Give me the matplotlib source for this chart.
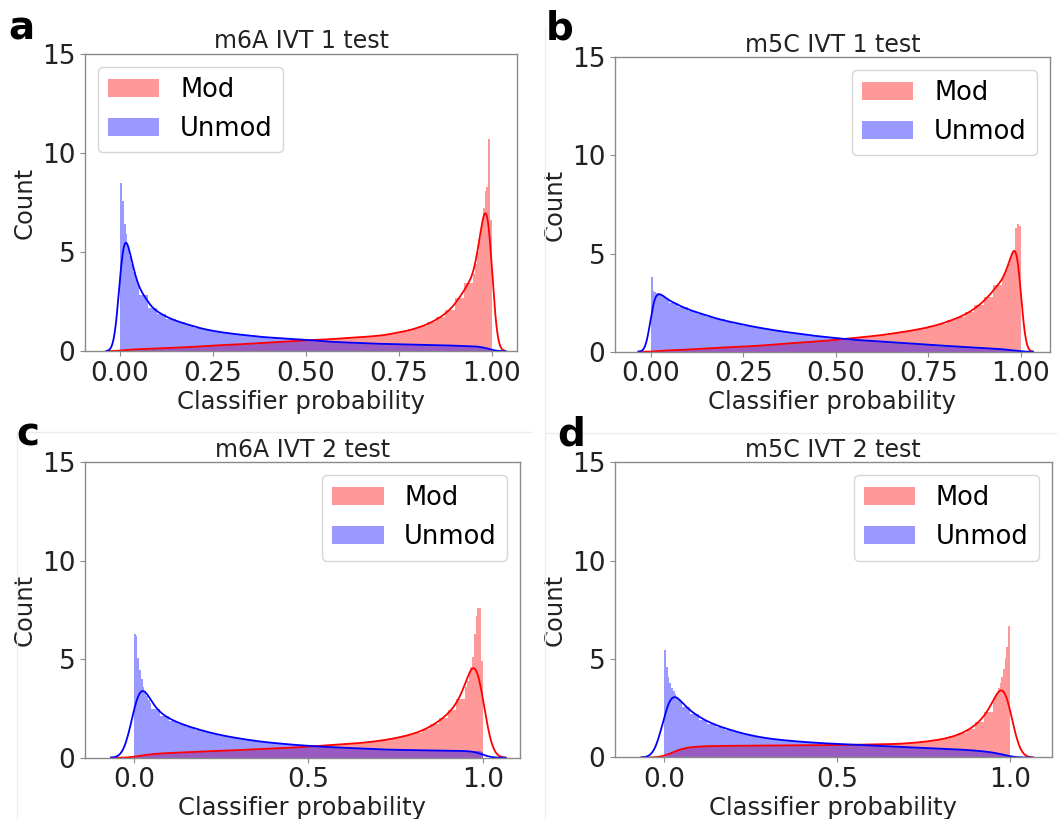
import math
import numpy as np
import matplotlib
matplotlib.use("Agg")
import matplotlib.pyplot as plt
from matplotlib.patches import Patch
from matplotlib.ticker import FormatStrFormatter

# shared bin edges: 0.005 wide near 0 and 1, 0.025 wide in the middle
edges = np.concatenate([np.linspace(0, 0.05, 11)[:-1],
                        np.linspace(0.05, 0.95, 37)[:-1],
                        np.linspace(0.95, 1.0, 11)])

# density per bin (10 fine + 36 mid + 10 fine)
a_mod = [0.04, 0.05, 0.05, 0.06, 0.06, 0.07, 0.07, 0.08, 0.08, 0.09,
         0.10, 0.12, 0.14, 0.16, 0.18, 0.20, 0.23, 0.26, 0.29, 0.31,
         0.33, 0.36, 0.38, 0.41, 0.44, 0.47, 0.50, 0.53, 0.55, 0.57,
         0.59, 0.63, 0.66, 0.69, 0.72, 0.76, 0.81, 0.90, 0.98, 1.10,
         1.25, 1.45, 1.72, 2.08, 2.68, 3.45,
         3.9, 4.4, 5.0, 5.7, 6.4, 7.2, 8.1, 8.3, 10.7, 6.6]
a_unmod = [8.5, 7.6, 6.4, 5.9, 5.3, 4.8, 4.4, 4.0, 3.7, 3.4,
           2.85, 2.15, 1.85, 1.62, 1.45, 1.31, 1.17, 1.06, 0.98, 0.91,
           0.85, 0.80, 0.75, 0.70, 0.67, 0.64, 0.61, 0.58, 0.55, 0.51,
           0.47, 0.45, 0.43, 0.41, 0.39, 0.37, 0.36, 0.35, 0.34, 0.33,
           0.31, 0.30, 0.29, 0.28, 0.26, 0.25,
           0.24, 0.23, 0.22, 0.21, 0.20, 0.18, 0.16, 0.14, 0.12, 0.10]

b_mod = [0.0, 0.01, 0.02, 0.03, 0.04, 0.04, 0.05, 0.06, 0.06, 0.07,
         0.07, 0.09, 0.12, 0.15, 0.18, 0.20, 0.23, 0.25, 0.27, 0.30,
         0.33, 0.37, 0.41, 0.44, 0.47, 0.50, 0.54, 0.58, 0.63, 0.68,
         0.72, 0.77, 0.82, 0.88, 0.95, 1.02, 1.10, 1.19, 1.30, 1.43,
         1.60, 1.78, 2.03, 2.36, 2.80, 3.40,
         3.75, 3.95, 4.2, 4.45, 4.75, 5.05, 5.2, 6.3, 6.5, 6.4]
b_unmod = [3.8, 3.1, 3.05, 3.0, 3.0, 2.95, 2.88, 2.8, 2.73, 2.67,
           2.5, 2.26, 2.08, 1.93, 1.78, 1.64, 1.53, 1.43, 1.33, 1.24,
           1.16, 1.08, 1.01, 0.95, 0.88, 0.82, 0.77, 0.72, 0.67, 0.63,
           0.59, 0.56, 0.53, 0.50, 0.46, 0.43, 0.40, 0.37, 0.34, 0.31,
           0.28, 0.26, 0.23, 0.20, 0.17, 0.14,
           0.12, 0.11, 0.10, 0.09, 0.08, 0.07, 0.06, 0.05, 0.04, 0.03]

c_mod = [0.05, 0.07, 0.09, 0.11, 0.12, 0.14, 0.15, 0.16, 0.17, 0.18,
         0.20, 0.23, 0.25, 0.27, 0.29, 0.31, 0.33, 0.34, 0.36, 0.38,
         0.40, 0.42, 0.44, 0.46, 0.48, 0.50, 0.52, 0.55, 0.58, 0.61,
         0.64, 0.67, 0.70, 0.73, 0.77, 0.82, 0.88, 0.95, 1.04, 1.14,
         1.27, 1.45, 1.70, 2.00, 2.40, 3.00,
         3.6, 3.9, 4.3, 4.6, 5.1, 6.3, 7.2, 7.6, 7.6, 4.9]
c_unmod = [6.3, 6.2, 5.05, 4.45, 4.0, 3.6, 3.4, 3.15, 2.95, 2.78,
           2.45, 2.1, 1.88, 1.70, 1.55, 1.42, 1.30, 1.19, 1.10, 1.02,
           0.95, 0.88, 0.82, 0.77, 0.73, 0.69, 0.65, 0.62, 0.59, 0.56,
           0.54, 0.52, 0.50, 0.48, 0.46, 0.44, 0.42, 0.41, 0.40, 0.39,
           0.38, 0.37, 0.37, 0.36, 0.35, 0.35,
           0.34, 0.34, 0.34, 0.33, 0.33, 0.33, 0.32, 0.32, 0.32, 0.31]

d_mod = [0.05, 0.10, 0.15, 0.20, 0.25, 0.30, 0.34, 0.38, 0.42, 0.45,
         0.50, 0.55, 0.57, 0.58, 0.59, 0.59, 0.60, 0.60, 0.60, 0.61,
         0.61, 0.61, 0.62, 0.62, 0.62, 0.63, 0.63, 0.63, 0.64, 0.64,
         0.65, 0.66, 0.67, 0.68, 0.68, 0.70, 0.73, 0.77, 0.82, 0.88,
         0.95, 1.07, 1.23, 1.45, 1.80, 2.30,
         2.8, 3.05, 3.3, 3.55, 3.8, 4.1, 4.5, 5.05, 5.6, 6.7]
d_unmod = [5.47, 4.62, 4.08, 3.78, 3.55, 3.38, 3.22, 3.08, 2.95, 2.84,
           2.55, 2.2, 1.93, 1.72, 1.56, 1.42, 1.29, 1.17, 1.08, 1.00,
           0.94, 0.89, 0.85, 0.81, 0.78, 0.75, 0.72, 0.70, 0.68, 0.66,
           0.64, 0.62, 0.60, 0.58, 0.56, 0.54, 0.52, 0.50, 0.48, 0.46,
           0.44, 0.42, 0.40, 0.37, 0.33, 0.29,
           0.26, 0.24, 0.22, 0.20, 0.18, 0.16, 0.14, 0.12, 0.10, 0.08]

titles = ["m6A IVT 1 test", "m5C IVT 1 test", "m6A IVT 2 test", "m5C IVT 2 test"]
letters = ["a", "b", "c", "d"]
mods = [a_mod, b_mod, c_mod, d_mod]
unmods = [a_unmod, b_unmod, c_unmod, d_unmod]
bandwidths = [0.012, 0.011, 0.022, 0.022]

# layout (figure fractions) and x ranges
positions = [[0.0804, 0.5714, 0.4090, 0.3626],
             [0.5818, 0.5706, 0.4115, 0.3595],
             [0.0804, 0.0748, 0.4115, 0.3607],
             [0.5818, 0.0751, 0.4131, 0.3604]]
xlims = [(-0.094, 1.068), (-0.0965, 1.079), (-0.1405, 1.107), (-0.1426, 1.1206)]
legend_locs = ["upper left", "upper right", "upper right", "upper right"]
letter_xy = [(8, 40), (546, 40), (16, 446), (557, 446)]

_phi = np.vectorize(lambda z: 0.5 * (1.0 + math.erf(z / math.sqrt(2.0))))


# gaussian kde of a binned density (each bin treated as uniform)
def binned_kde(heights, edges, h, x):
    d = np.asarray(heights)
    lo = edges[:-1][None, :]
    hi = edges[1:][None, :]
    xx = x[:, None]
    return (d[None, :] * (_phi((xx - lo) / h) - _phi((xx - hi) / h))).sum(axis=1)


fig = plt.figure(figsize=(10.57, 8.19), dpi=100)
spine_col = "#8a8a8a"
text_col = "#222222"

for i in range(4):
    ax = fig.add_axes(positions[i])
    widths = np.diff(edges)
    h = bandwidths[i]
    grid = np.linspace(-3 * h, 1 + 3 * h, 400)

    ax.bar(edges[:-1], mods[i], width=widths, align="edge", color="red",
           alpha=0.4, linewidth=0)
    ax.bar(edges[:-1], unmods[i], width=widths, align="edge", color="blue",
           alpha=0.4, linewidth=0)
    ax.plot(grid, binned_kde(mods[i], edges, h, grid), color="red", lw=1.3)
    ax.plot(grid, binned_kde(unmods[i], edges, h, grid), color="blue", lw=1.3)

    ax.set_xlim(*xlims[i])
    ax.set_ylim(0, 15)
    ax.set_yticks([0, 5, 10, 15])
    if i < 2:
        ax.set_xticks([0, 0.25, 0.5, 0.75, 1.0])
        ax.xaxis.set_major_formatter(FormatStrFormatter("%.2f"))
    else:
        ax.set_xticks([0, 0.5, 1.0])
        ax.xaxis.set_major_formatter(FormatStrFormatter("%.1f"))

    for s in ax.spines.values():
        s.set_color(spine_col)
        s.set_linewidth(1.0)
    ax.tick_params(colors=spine_col, labelcolor=text_col, labelsize=19)

    ax.set_title(titles[i], fontsize=17, color=text_col, pad=4)
    ax.set_xlabel("Classifier probability", fontsize=17.5, color=text_col, labelpad=2)
    ax.set_ylabel("Count", fontsize=17.5, color=text_col)

    handles = [Patch(facecolor="red", alpha=0.4, label="Mod"),
               Patch(facecolor="blue", alpha=0.4, label="Unmod")]
    ax.legend(handles=handles, loc=legend_locs[i], fontsize=18.5)

    lx, ly = letter_xy[i]
    fig.text(lx / 1057, 1 - ly / 819, letters[i], fontsize=28,
             fontweight="bold", va="baseline", ha="left")

# faint borders of the original panel images
for xs, ys in [((545, 545), (28, 819)), ((17, 17), (432, 819)),
               ((17, 532), (432, 432)), ((546, 1057), (433, 433))]:
    fig.add_artist(plt.Line2D([x / 1057 for x in xs], [1 - y / 819 for y in ys],
                              color="#ececec", lw=1))

fig.savefig("out.png", dpi=100)
